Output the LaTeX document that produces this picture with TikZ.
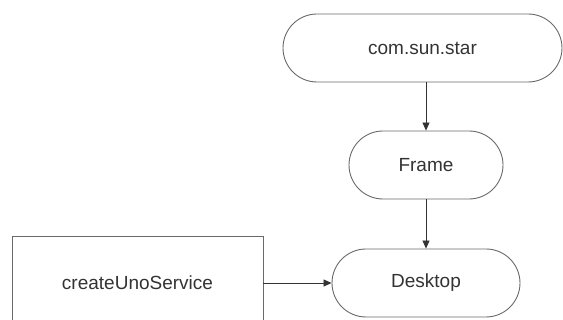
\documentclass[tikz,border=0pt]{standalone}
\usepackage{fontspec}
\setmainfont{Liberation Sans}
\usetikzlibrary{arrows.meta,shapes.misc}
\definecolor{edge}{HTML}{6A6A6A}
\definecolor{ink}{HTML}{333333}
\tikzset{
  pill/.style={draw=edge, line width=0.9pt, rounded rectangle, inner sep=0pt,
    minimum height=68pt, font=\fontsize{19}{21}\selectfont, text=ink},
  box/.style={draw=edge, line width=0.9pt, rectangle, inner sep=0pt,
    font=\fontsize{19}{21}\selectfont, text=ink},
  link/.style={draw=ink, line width=0.8pt, -{Triangle[length=8pt,width=7pt]}}
}
\begin{document}
\begin{tikzpicture}[x=1pt,y=-1pt]
\useasboundingbox (0,0) rectangle (563,320);
% rounded nodes stacked in one column
\node[pill, minimum width=279pt] (star) at (422.5,48) {com.sun.star};
\node[pill, minimum width=154pt] (frame) at (426,165) {Frame};
\node[pill, minimum width=188pt] (desk) at (426,283) {Desktop};
% rectangular box on the left, running past the lower edge
\node[box, minimum width=251pt, minimum height=94pt] (svc) at (137.5,283) {createUnoService};
% connectors
\draw[link] (star.south -| frame.north) -- (frame.north);
\draw[link] (frame.south) -- (desk.north);
\draw[link] (svc.east) -- (desk.west);
\end{tikzpicture}
\end{document}
